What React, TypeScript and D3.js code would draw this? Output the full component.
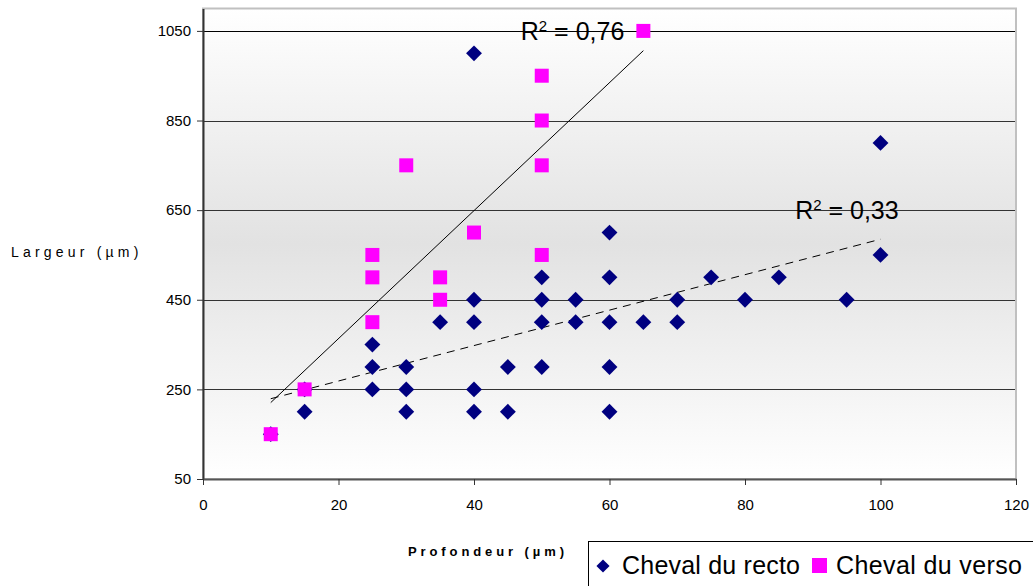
import React, { useEffect, useRef } from 'react'
import * as d3 from 'd3'

interface IPoint {
  x: number
  y: number
}

// Cheval du recto (profondeur, largeur)
const rectoX = [10, 15, 15, 25, 25, 25, 30, 30, 30, 35, 40, 40, 40, 40, 40, 45, 45, 50, 50, 50, 50, 55, 55, 60, 60, 60, 60, 60, 65, 70, 70, 75, 80, 85, 95, 100, 100]
const rectoY = [150, 200, 250, 350, 300, 250, 300, 250, 200, 400, 1000, 450, 400, 250, 200, 300, 200, 500, 450, 400, 300, 450, 400, 600, 500, 400, 300, 200, 400, 450, 400, 500, 450, 500, 450, 800, 550]

// Cheval du verso
const versoX = [10, 15, 25, 25, 25, 30, 35, 35, 40, 50, 50, 50, 50, 65]
const versoY = [150, 250, 550, 500, 400, 750, 500, 450, 600, 950, 850, 750, 550, 1050]

const xTicks = [0, 20, 40, 60, 80, 100, 120]
const yTicks = [50, 250, 450, 650, 850, 1050]
const seriesNames = ['Cheval du recto', 'Cheval du verso']
const r2Labels = ['0,76', '0,33']

const FONT = "Arial, 'Liberation Sans', sans-serif"

const toPoints = (xs: number[], ys: number[]): IPoint[] => xs.map((x, i) => ({ x, y: ys[i] }))

// least squares fit, like the Excel trendline
const fit = (pts: IPoint[]) => {
  const mx = d3.mean(pts, d => d.x) as number
  const my = d3.mean(pts, d => d.y) as number
  const sxy = d3.sum(pts, d => (d.x - mx) * (d.y - my))
  const sxx = d3.sum(pts, d => (d.x - mx) ** 2)
  const slope = sxy / sxx
  const intercept = my - slope * mx
  const [x0, x1] = d3.extent(pts, d => d.x) as [number, number]
  return [
    { x: x0, y: intercept + slope * x0 },
    { x: x1, y: intercept + slope * x1 }
  ]
}

const Chart = () => {
  const ref = useRef<SVGSVGElement>(null)

  const dimensions = {
    width: 1033,
    height: 586,
    left: 203,
    right: 1016,
    top: 8.5,
    bottom: 479
  }

  useEffect(() => {
    const svg = d3.select(ref.current)
    svg.selectAll('*').remove()

    const recto = toPoints(rectoX, rectoY)
    const verso = toPoints(versoX, versoY)

    const xScale = d3.scaleLinear().domain([0, 120]).range([dimensions.left, dimensions.right])
    const yScale = d3.scaleLinear().domain([50, 1100]).range([dimensions.bottom, dimensions.top])

    const defs = svg.append('defs')
    const grad = defs.append('linearGradient').attr('id', 'bg').attr('x1', 0).attr('y1', 0).attr('x2', 0).attr('y2', 1)
    grad.append('stop').attr('offset', '0%').attr('stop-color', '#ffffff')
    grad.append('stop').attr('offset', '50%').attr('stop-color', '#e2e2e2')
    grad.append('stop').attr('offset', '100%').attr('stop-color', '#ffffff')

    // plot area
    svg
      .append('rect')
      .attr('x', dimensions.left)
      .attr('y', dimensions.top)
      .attr('width', dimensions.right - dimensions.left)
      .attr('height', dimensions.bottom - dimensions.top)
      .attr('fill', 'url(#bg)')
      .attr('stroke', '#c0c0c0')
      .attr('stroke-width', 2)

    // gridlines
    svg
      .append('g')
      .selectAll('line')
      .data(yTicks.slice(1))
      .enter()
      .append('line')
      .attr('x1', dimensions.left)
      .attr('x2', dimensions.right - 1)
      .attr('y1', d => Math.round(yScale(d)) + 0.5)
      .attr('y2', d => Math.round(yScale(d)) + 0.5)
      .attr('stroke', d => (d === 1050 ? '#000' : '#333'))
      .attr('stroke-width', 1)

    // y axis
    const yAxis = svg
      .append('g')
      .attr('transform', `translate(${dimensions.left},0)`)
      .call(
        d3
          .axisLeft(yScale)
          .tickValues(yTicks)
          .tickFormat(d3.format('d'))
          .tickSize(6)
          .tickPadding(6)
          .tickSizeOuter(0)
      )
    yAxis.select('.domain').attr('stroke', '#333').attr('stroke-width', 2)
    yAxis.selectAll('.tick line').attr('stroke', '#333')
    yAxis.selectAll('.tick text').attr('font-family', FONT).attr('font-size', 15).attr('fill', '#000')

    // x axis
    const xAxis = svg
      .append('g')
      .attr('transform', `translate(0,${dimensions.bottom})`)
      .call(d3.axisBottom(xScale).tickValues(xTicks).tickSize(6).tickPadding(14).tickSizeOuter(0))
    xAxis.select('.domain').attr('stroke', '#555').attr('stroke-width', 2)
    xAxis.selectAll('.tick line').attr('stroke', '#333')
    xAxis.selectAll('.tick text').attr('font-family', FONT).attr('font-size', 15).attr('fill', '#000')

    // trendlines
    const line = d3
      .line<IPoint>()
      .x(d => xScale(d.x))
      .y(d => yScale(d.y))
    svg.append('path').attr('d', line(fit(verso))).attr('stroke', '#000').attr('fill', 'none').attr('stroke-width', 1)
    svg
      .append('path')
      .attr('d', line(fit(recto)))
      .attr('stroke', '#000')
      .attr('fill', 'none')
      .attr('stroke-width', 1)
      .attr('stroke-dasharray', '8,6')

    const diamond = d3.symbol().type(d3.symbolDiamond2).size(160)
    svg
      .append('g')
      .selectAll('path')
      .data(recto)
      .enter()
      .append('path')
      .attr('d', diamond)
      .attr('transform', d => `translate(${xScale(d.x)},${yScale(d.y)})`)
      .attr('fill', '#000080')

    svg
      .append('g')
      .selectAll('rect')
      .data(verso)
      .enter()
      .append('rect')
      .attr('x', d => xScale(d.x) - 7)
      .attr('y', d => yScale(d.y) - 7)
      .attr('width', 14)
      .attr('height', 14)
      .attr('fill', '#ff00ff')

    // R² labels
    const r2Pos = [
      { x: 46.9, y: 1030 },
      { x: 87.4, y: 630 }
    ]
    r2Pos.forEach((p, i) => {
      const t = svg
        .append('text')
        .attr('x', xScale(p.x))
        .attr('y', yScale(p.y))
        .attr('font-family', FONT)
        .attr('font-size', 25)
        .attr('fill', '#000')
      t.append('tspan').text('R')
      t.append('tspan').attr('font-size', 15).attr('dy', -9).text('2')
      t.append('tspan').attr('dy', 9).text(` = ${r2Labels[i]}`)
    })

    // axis titles
    svg
      .append('text')
      .attr('x', 11)
      .attr('y', 257)
      .attr('font-family', FONT)
      .attr('font-size', 14)
      .attr('letter-spacing', 4.2)
      .text('Largeur (µm)')
    svg
      .append('text')
      .attr('x', 408)
      .attr('y', 556)
      .attr('font-family', FONT)
      .attr('font-size', 13)
      .attr('font-weight', 'bold')
      .attr('letter-spacing', 3.9)
      .text('Profondeur (µm)')

    // legend
    const legend = svg.append('g')
    legend
      .append('rect')
      .attr('x', 588.5)
      .attr('y', 541.5)
      .attr('width', 500)
      .attr('height', 100)
      .attr('fill', '#fff')
      .attr('stroke', '#000')
    legend
      .append('path')
      .attr('d', d3.symbol().type(d3.symbolDiamond2).size(110))
      .attr('transform', 'translate(603,566)')
      .attr('fill', '#000080')
    legend
      .append('rect')
      .attr('x', 812)
      .attr('y', 558)
      .attr('width', 15)
      .attr('height', 15)
      .attr('fill', '#ff00ff')
    legend
      .selectAll('text.lbl')
      .data(seriesNames)
      .enter()
      .append('text')
      .attr('class', 'lbl')
      .attr('x', (d, i) => (i === 0 ? 622 : 836))
      .attr('y', 574)
      .attr('font-family', FONT)
      .attr('font-size', 25)
      .attr('textLength', (d, i) => (i === 0 ? 178 : 186))
      .text(d => d)
  }, [])

  return (
    <svg
      ref={ref}
      width={dimensions.width}
      height={dimensions.height}
      style={{ position: 'absolute', left: 0, top: 0, background: '#fff' }}
    />
  )
}

export default function App() {
  return (
    <div>
      <Chart />
    </div>
  )
}
